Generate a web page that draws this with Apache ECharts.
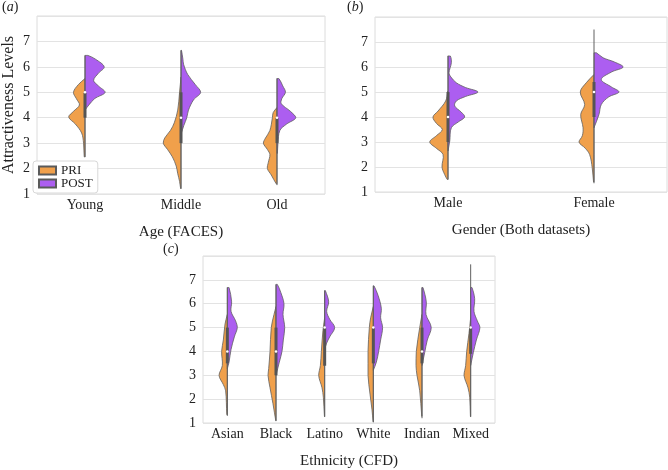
<!DOCTYPE html>
<html><head><meta charset="utf-8">
<script src="https://cdn.jsdelivr.net/npm/echarts@6/dist/echarts.min.js"></script>
<style>html,body{margin:0;padding:0;background:#fff}#c{width:668px;height:470px}</style>
</head><body><div id="c"></div>
<script>
// ---------- data ----------
const ageCats = ['Young', 'Middle', 'Old'];
const genderCats = ['Male', 'Female'];
const ethCats = ['Asian', 'Black', 'Latino', 'White', 'Indian', 'Mixed'];
const yTicks = [1, 2, 3, 4, 5, 6, 7];

// density profiles: [rating, half-width (fraction of category band)], top to bottom
const agePri = [
  [[5.54,0],[5.3,0.07],[5.0,0.12],[4.75,0.09],[4.5,0.058],[4.25,0.12],[4.03,0.17],[3.75,0.10],[3.4,0.035],[3.0,0.015],[2.46,0.008]],
  [[5.6,0],[5.0,0.015],[4.3,0.034],[3.8,0.07],[3.5,0.11],[3.2,0.17],[3.0,0.185],[2.75,0.14],[2.46,0.09],[2.1,0.05],[1.8,0.034],[1.5,0.015],[1.22,0.004]],
  [[4.4,0],[4.2,0.04],[4.0,0.048],[3.5,0.074],[3.2,0.12],[3.0,0.142],[2.75,0.10],[2.55,0.074],[2.25,0.09],[2.0,0.10],[1.75,0.06],[1.4,0.008]]
];
const agePost = [
  [[6.45,0.03],[6.3,0.11],[6.0,0.20],[5.75,0.14],[5.47,0.09],[5.25,0.14],[5.0,0.21],[4.75,0.10],[4.5,0.04],[4.3,0]],
  [[6.65,0.005],[6.3,0.02],[6.1,0.027],[5.7,0.07],[5.3,0.15],[5.0,0.205],[4.7,0.13],[4.3,0.078],[4.0,0.06],[3.7,0.03],[3.35,0]],
  [[5.54,0.02],[5.25,0.06],[5.0,0.088],[4.75,0.05],[4.55,0.045],[4.25,0.14],[4.0,0.196],[3.75,0.10],[3.5,0.03],[3.0,0.01],[2.6,0.004]]
];
// [low whisker, q1, median, q3, high whisker]
const ageBox = [[2.45,4,5,5,6.45],[1.2,3,4,5,6.65],[1.35,3,4,4,5.55]];

const genderPri = [
  [[5.04,0],[4.64,0.016],[4.24,0.068],[4.0,0.103],[3.75,0.08],[3.5,0.039],[3.25,0.08],[3.0,0.125],[2.75,0.08],[2.5,0.034],[2.0,0.041],[1.7,0.023],[1.5,0.005]],
  [[5.7,0],[5.37,0.053],[5.0,0.094],[4.5,0.064],[4.1,0.091],[3.57,0.075],[3.25,0.08],[3.0,0.103],[2.75,0.06],[2.5,0.03],[1.96,0.012],[1.4,0.003]]
];
const genderPost = [
  [[6.44,0.016],[6.17,0.023],[5.77,0.007],[5.6,0.02],[5.37,0.057],[5.18,0.12],[5.0,0.205],[4.82,0.12],[4.64,0.057],[4.44,0.046],[4.2,0.09],[4.0,0.114],[3.8,0.07],[3.57,0.023],[3.04,0.012],[2.64,0]],
  [[6.57,0.016],[6.37,0.062],[6.2,0.14],[6.0,0.2],[5.8,0.12],[5.5,0.05],[5.2,0.12],[5.0,0.171],[4.8,0.1],[4.5,0.05],[4.1,0.034],[3.57,0]]
];
const genderBox = [[1.5,3,4,5,6.45],[1.35,4,5,5.4,7.5]];

const ethPri = [
  [[5.55,0],[5.15,0.047],[4.48,0.082],[4.0,0.117],[3.41,0.103],[3.0,0.17],[2.61,0.082],[2.35,0.035],[1.35,0.01]],
  [[5.88,0],[5.55,0.041],[5.0,0.097],[4.0,0.123],[3.28,0.15],[3.0,0.164],[2.48,0.123],[1.81,0.062],[1.1,0.005]],
  [[5.41,0],[4.88,0.035],[4.0,0.068],[3.41,0.088],[3.0,0.123],[2.48,0.055],[2.08,0.027],[1.28,0.005]],
  [[5.88,0],[5.41,0.055],[5.0,0.082],[4.0,0.109],[3.0,0.109],[2.21,0.068],[1.55,0.027],[1.05,0.005]],
  [[5.55,0],[5.0,0.047],[4.0,0.117],[3.41,0.123],[3.0,0.103],[2.35,0.047],[1.28,0.005]],
  [[5.41,0],[4.75,0.035],[4.0,0.082],[3.41,0.103],[3.0,0.137],[2.48,0.055],[2.08,0.02],[1.28,0.005]]
];
const ethPost = [
  [[6.68,0.035],[6.08,0.088],[5.68,0.076],[5.28,0.17],[5.0,0.205],[4.61,0.144],[4.08,0.076],[3.55,0.035],[3.28,0]],
  [[6.81,0.027],[6.48,0.097],[6.0,0.164],[5.55,0.144],[5.0,0.179],[4.48,0.15],[4.0,0.123],[3.55,0.068],[3.0,0]],
  [[6.55,0.014],[6.08,0.082],[5.68,0.041],[5.35,0.103],[5.0,0.205],[4.61,0.103],[4.35,0.041],[4.08,0]],
  [[6.75,0.014],[6.35,0.097],[5.81,0.164],[5.41,0.15],[5.0,0.19],[4.48,0.15],[4.0,0.109],[3.55,0.062],[3.21,0]],
  [[6.68,0.02],[6.08,0.088],[5.55,0.082],[5.0,0.19],[4.48,0.109],[3.95,0.055],[3.41,0]],
  [[6.68,0.027],[6.21,0.082],[5.68,0.068],[5.28,0.137],[5.0,0.19],[4.48,0.117],[3.95,0.055],[3.41,0]]
];
const ethBox = [[1.3,3.5,4,5,6.68],[1.08,3,4,5,6.81],[1.25,3.4,5,5,6.55],[1.03,3.5,5,5,6.75],[1.2,3.5,4,5,6.68],[1.25,3.9,5,5,7.65]];

// ---------- rendering ----------
const PRI_COLOR = '#f0a04b';
const POST_COLOR = '#ac5ef0';
const FONT = 'Liberation Serif, DejaVu Serif, serif';

function violinRender(profiles, side, color) {
  return function (params, api) {
    const cat = api.value(0);
    const prof = profiles[params.dataIndex];
    const band = api.size([1, 0])[0];
    const pts = [];
    const top = api.coord([cat, prof[0][0]]);
    pts.push([top[0], top[1]]);
    prof.forEach(function (p) {
      const c = api.coord([cat, p[0]]);
      pts.push([c[0] + side * p[1] * band, c[1]]);
    });
    const bot = api.coord([cat, prof[prof.length - 1][0]]);
    pts.push([bot[0], bot[1]]);
    let minX = Infinity, maxX = -Infinity, minY = Infinity, maxY = -Infinity;
    pts.forEach(function (p) {
      minX = Math.min(minX, p[0]); maxX = Math.max(maxX, p[0]);
      minY = Math.min(minY, p[1]); maxY = Math.max(maxY, p[1]);
    });
    return {
      type: 'polygon',
      shape: { points: pts, smooth: 0.35, smoothConstraint: [[minX, minY], [maxX, maxY]] },
      style: { fill: color, stroke: '#5f5f5f', lineWidth: 0.8 }
    };
  };
}
function boxRender(boxes) {
  return function (params, api) {
    const cat = api.value(0);
    const b = boxes[params.dataIndex];
    const lo = api.coord([cat, b[0]]), q1 = api.coord([cat, b[1]]), md = api.coord([cat, b[2]]),
          q3 = api.coord([cat, b[3]]), hi = api.coord([cat, b[4]]);
    return {
      type: 'group',
      children: [
        { type: 'line', shape: { x1: lo[0], y1: lo[1], x2: hi[0], y2: hi[1] }, style: { stroke: '#606060', lineWidth: 1 } },
        { type: 'rect', shape: { x: q3[0] - 1.5, y: q3[1], width: 3, height: Math.max(q1[1] - q3[1], 0) }, style: { fill: '#555555' } },
        { type: 'circle', shape: { cx: md[0], cy: md[1], r: 1.3 }, style: { fill: '#ffffff' } }
      ]
    };
  };
}

function catData(cats, boxes) { return cats.map(function (c, i) { return [i, boxes[i][2]]; }); }

const grids = [
  { left: 29, top: 16, width: 296, height: 178 },
  { left: 375, top: 17, width: 292, height: 175 },
  { left: 203, top: 256, width: 292, height: 174 }
];
const xNames = ['Age (FACES)', 'Gender (Both datasets)', 'Ethnicity (CFD)'];
const catsList = [ageCats, genderCats, ethCats];
const priList = [agePri, genderPri, ethPri];
const postList = [agePost, genderPost, ethPost];
const boxList = [ageBox, genderBox, ethBox];

const richLabel = { n: { fontFamily: FONT, fontSize: 14, fill: '#222' }, i: { fontFamily: FONT, fontSize: 14, fontStyle: 'italic', fill: '#222' } };

const option = {
  animation: false,
  backgroundColor: '#ffffff',
  grid: grids.map(function (g) { return Object.assign({ show: true, borderColor: '#dcdcdc', borderWidth: 1, backgroundColor: 'transparent' }, g); }),
  xAxis: catsList.map(function (cats, i) {
    return {
      type: 'category', gridIndex: i, data: cats,
      axisLine: { show: false }, axisTick: { show: false },
      axisLabel: { fontFamily: FONT, fontSize: 14, color: '#222', margin: 4 },
      name: xNames[i], nameLocation: 'middle', nameGap: 31,
      nameTextStyle: { fontFamily: FONT, fontSize: 15, color: '#222' }
    };
  }),
  yAxis: [0, 1, 2].map(function (i) {
    return {
      type: 'value', gridIndex: i, min: 1, max: 8, interval: 1,
      axisLine: { show: false }, axisTick: { show: false },
      axisLabel: { fontFamily: FONT, fontSize: 14, color: '#222', margin: 7, showMaxLabel: false,
        formatter: function (v) { return yTicks.indexOf(v) >= 0 ? String(v) : ''; } },
      splitLine: { show: true, lineStyle: { color: '#e3e3e3', width: 1 } },
      name: i === 0 ? 'Attractiveness Levels' : '', nameLocation: 'middle', nameGap: 20,
      nameTextStyle: { fontFamily: FONT, fontSize: 16, color: '#222' }
    };
  }),
  legend: {
    data: ['PRI', 'POST'], left: 33, top: 161, orient: 'vertical', icon: 'rect',
    itemWidth: 17, itemHeight: 8, itemGap: 0, padding: [3, 5, 3, 5],
    borderColor: '#d8d8d8', borderWidth: 1, borderRadius: 3, backgroundColor: 'rgba(255,255,255,0.85)',
    textStyle: { fontFamily: FONT, fontSize: 13, color: '#222' }
  },
  graphic: [
    { type: 'text', left: 2, top: 0, style: { text: '{n|(}{i|a}{n|)}', rich: richLabel } },
    { type: 'text', left: 347, top: 0, style: { text: '{n|(}{i|b}{n|)}', rich: richLabel } },
    { type: 'text', left: 163, top: 242, style: { text: '{n|(}{i|c}{n|)}', rich: richLabel } }
  ],
  series: []
};

[0, 1, 2].forEach(function (i) {
  const d = catData(catsList[i], boxList[i]);
  option.series.push({ type: 'custom', name: 'PRI', xAxisIndex: i, yAxisIndex: i, data: d, encode: { x: 0, y: 1 },
    itemStyle: { color: PRI_COLOR, borderColor: '#5a5a5a', borderWidth: 0.6 }, renderItem: violinRender(priList[i], -1, PRI_COLOR), z: 2 });
  option.series.push({ type: 'custom', name: 'POST', xAxisIndex: i, yAxisIndex: i, data: d, encode: { x: 0, y: 1 },
    itemStyle: { color: POST_COLOR, borderColor: '#5a5a5a', borderWidth: 0.6 }, renderItem: violinRender(postList[i], 1, POST_COLOR), z: 2 });
  option.series.push({ type: 'custom', name: 'box', xAxisIndex: i, yAxisIndex: i, data: d, encode: { x: 0, y: 1 },
    renderItem: boxRender(boxList[i]), z: 3 });
});

const chart = echarts.init(document.getElementById('c'), null, { renderer: 'canvas' });
chart.setOption(option);
</script></body></html>
